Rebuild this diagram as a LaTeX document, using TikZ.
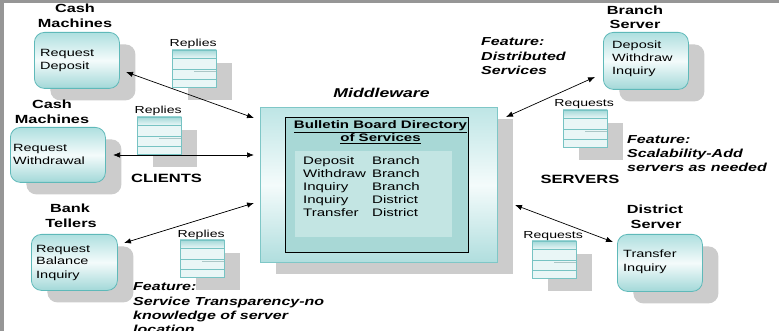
\documentclass[tikz,border=0pt]{standalone}
\usepackage{fontspec}
\setmainfont{Liberation Sans}[FakeStretch=1.38]
\usetikzlibrary{arrows.meta,shadows,calc}
\definecolor{tealb}{HTML}{5FB9B9}
\definecolor{tealt}{HTML}{AEDFDF}
\definecolor{tealm}{HTML}{F4FBFB}
\definecolor{tealbot}{HTML}{A2D8D8}
\definecolor{shgrey}{HTML}{CCCCCC}
\definecolor{framegrey}{HTML}{969696}
\definecolor{innerteal}{HTML}{A8D8D6}
\definecolor{innerlight}{HTML}{C3E5E3}
\definecolor{qfill}{HTML}{E9F6F6}
\newcommand\fbody{\fontsize{10.5}{13}\selectfont}
\newcommand\ftitle{\fontsize{11.8}{15}\selectfont\bfseries}
\newcommand\ffeat{\fontsize{11.6}{14}\selectfont\bfseries\itshape}
\newcommand\flab{\fontsize{10.2}{12}\selectfont}
\newcommand\ftab{\fontsize{10.9}{13}\selectfont}
\newcommand\mqbox[4]{%
  \node[qbox, anchor=north west] (#1) at (#2,#3) {};
  \path[top color=tealbot, bottom color=qfill] (#1.north west) rectangle ($(#1.north east)+(0,8)$);
  \draw[qline] ($(#1.north west)+(0,8)$) -- ($(#1.north east)+(0,8)$);
  \draw[qline] ($(#1.north west)+(0,19)$) -- ($(#1.north east)+(0,19)$);
  \draw[qline] ($(#1.north west)+(0,29)$) -- ($(#1.north east)+(0,29)$);
  \draw[qline, shgrey!70!tealb] ($(#1.north west)+(22,21)$) -- ($(#1.north east)+(0,21)$);
  \draw[qline, line width=0.8pt] (#1.north west) rectangle (#1.south east);
  \node[font=\flab, anchor=base, inner sep=0pt] (#1lab) at ($(#1.north)+(-1,-3)$) {#4};
}
\tikzset{
  rbox/.style={draw=tealb, line width=0.8pt, rounded corners=10pt, anchor=north west,
    top color=tealt, bottom color=tealbot, middle color=tealm,
    drop shadow={shadow xshift=16pt, shadow yshift=-12pt, fill=shgrey, opacity=1},
    inner sep=0pt},
  qbox/.style={fill=qfill, draw=tealb, minimum width=44pt, minimum height=37pt, inner sep=0pt,
    drop shadow={shadow xshift=16pt, shadow yshift=-13pt, fill=shgrey, opacity=1}},
  qline/.style={draw=tealb!85, line width=0.7pt},
  txt/.style={font=\fbody, anchor=base west, inner sep=0pt},
  ttl/.style={font=\ftitle, anchor=base, inner sep=0pt},
  feat/.style={font=\ffeat, anchor=base west, inner sep=0pt},
  tab/.style={font=\ftab, anchor=base west, inner sep=0pt},
  dbl/.style={{Latex[length=7pt,width=5.5pt]}-{Latex[length=7pt,width=5.5pt]}, line width=0.7pt, black},
}
\begin{document}
\begin{tikzpicture}[x=1pt,y=-1pt]
\useasboundingbox (0,0) rectangle (779,331);
\clip (0,0) rectangle (779,331);
\fill[white] (0,0) rectangle (779,331);
\fill[framegrey] (0,0) rectangle (4,331);
\fill[framegrey] (0,0) rectangle (779,3);

% ---- Cash Machines 1
\node[ttl] (cm1a) at (75,13) {Cash};
\node[ttl] (cm1b) at (75,28) {Machines};
\node[rbox, minimum width=85pt, minimum height=56pt] (cm1) at (34,32) {};
\node[txt] (cm1t1) at (40,57) {Request};
\node[txt] (cm1t2) at (40,70) {Deposit};
\mqbox{r1}{172}{50}{Replies}

% ---- Cash Machines 2
\node[ttl] (cm2a) at (52,109) {Cash};
\node[ttl] (cm2b) at (52,124) {Machines};
\node[rbox, minimum width=95pt, minimum height=55pt] (cm2) at (10,127) {};
\node[txt] (cm2t1) at (13,152) {Request};
\node[txt] (cm2t2) at (13,165) {Withdrawal};
\mqbox{r2}{137}{117}{Replies}
\node[font=\fontsize{12}{14}\selectfont\bfseries, anchor=base, inner sep=0pt] (clients) at (166.5,183) {CLIENTS};

% ---- Bank Tellers
\node[ttl] (bta) at (70,213) {Bank};
\node[ttl] (btb) at (71,228) {Tellers};
\node[rbox, minimum width=86pt, minimum height=56pt] (bt) at (31,234) {};
\node[txt] (btt1) at (36,252) {Request};
\node[txt] (btt2) at (36,265) {Balance};
\node[txt] (btt3) at (36,278) {Inquiry};
\mqbox{r3}{180}{240}{Replies}
\node[feat] (f1a) at (133,290) {Feature:};
\node[feat] (f1b) at (133,305) {Service Transparency-no};
\node[feat] (f1c) at (133,319) {knowledge of server};
\node[feat] (f1d) at (133,333) {location};

% ---- Middleware
\node[font=\fontsize{12.8}{15}\selectfont\bfseries\itshape, anchor=base, inner sep=0pt] (mwl) at (381.5,98) {Middleware};
\node[draw=tealb!80, line width=0.8pt, anchor=north west, minimum width=237pt, minimum height=155pt, inner sep=0pt,
  top color=tealt!80, bottom color=tealbot!85, middle color=tealm,
  drop shadow={shadow xshift=16pt, shadow yshift=-12pt, fill=shgrey, opacity=1}] (mw) at (260,107) {};
\node[draw=black, line width=1.1pt, fill=innerteal, anchor=north west, minimum width=183pt, minimum height=135pt, inner sep=0pt] (bb) at (285,117) {};
\node[fill=innerlight, anchor=north west, minimum width=157pt, minimum height=86pt, inner sep=0pt] (bbl) at (295,151) {};
\node[font=\fontsize{10.9}{13}\selectfont\bfseries, anchor=base, inner sep=0pt] (bbt1) at (380.5,129) {\underline{Bulletin Board Directory}};
\node[font=\fontsize{10.9}{13}\selectfont\bfseries, anchor=base, inner sep=0pt] (bbt2) at (380.5,142) {\underline{of Services}};
\node[tab] (d1) at (303,165) {Deposit};
\node[tab] (d2) at (303,178) {Withdraw};
\node[tab] (d3) at (303,191) {Inquiry};
\node[tab] (d4) at (303,204) {Inquiry};
\node[tab] (d5) at (303,217) {Transfer};
\node[tab] (e1) at (372,165) {Branch};
\node[tab] (e2) at (372,178) {Branch};
\node[tab] (e3) at (372,191) {Branch};
\node[tab] (e4) at (372,204) {District};
\node[tab] (e5) at (372,217) {District};

% ---- Branch Server
\node[feat] (f2a) at (481,46) {Feature:};
\node[feat] (f2b) at (481,61) {Distributed};
\node[feat] (f2c) at (481,75) {Services};
\node[ttl] (bsa) at (635,15) {Branch};
\node[ttl] (bsb) at (635,29) {Server};
\node[rbox, minimum width=85pt, minimum height=57pt] (bs) at (603,32) {};
\node[txt] (bst1) at (612,49) {Deposit};
\node[txt] (bst2) at (612,62) {Withdraw};
\node[txt] (bst3) at (612,75) {Inquiry};
\mqbox{q1}{563}{110}{Requests}
\node[feat] (f3a) at (627,144) {Feature:};
\node[feat] (f3b) at (627,158) {Scalability-Add};
\node[feat] (f3c) at (627,172) {servers as needed};
\node[font=\fontsize{12}{14}\selectfont\bfseries, anchor=base, inner sep=0pt] (servers) at (580,184) {SERVERS};

% ---- District Server
\node[ttl] (dsa) at (655,214) {District};
\node[ttl] (dsb) at (656,229) {Server};
\node[rbox, minimum width=85pt, minimum height=57pt] (ds) at (617,234) {};
\node[txt] (dst1) at (623,258) {Transfer};
\node[txt] (dst2) at (623,271) {Inquiry};
\mqbox{q2}{532}{241}{Requests}

% ---- connectors
\coordinate (c1a) at (126,72);  \coordinate (c1b) at (254,118);
\coordinate (c2a) at (113,155); \coordinate (c2b) at (254,155);
\coordinate (c3a) at (124,243); \coordinate (c3b) at (254,203);
\coordinate (c4a) at (595,77);  \coordinate (c4b) at (506,117);
\coordinate (c5a) at (515,205); \coordinate (c5b) at (613,242);
\draw[dbl] (c1a) -- (c1b);
\draw[dbl] (c2a) -- (c2b);
\draw[dbl] (c3a) -- (c3b);
\draw[dbl] (c4a) -- (c4b);
\draw[dbl] (c5a) -- (c5b);
\end{tikzpicture}
\end{document}
